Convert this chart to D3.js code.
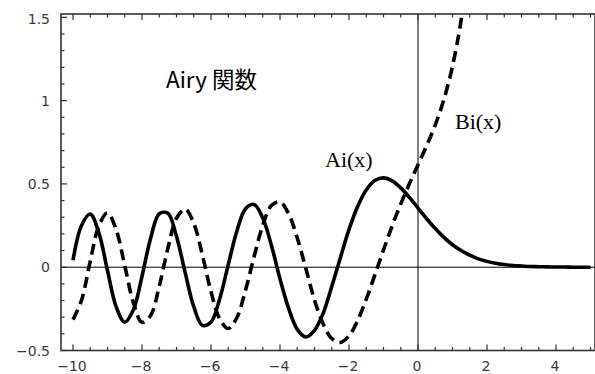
<!DOCTYPE html>
<html><head><meta charset="utf-8">
<script src="https://cdn.jsdelivr.net/npm/d3@7/dist/d3.min.js"></script>
<style>body{margin:0;background:#fff;overflow:hidden}</style>
</head><body>
<script>
// Sample positions
const aiX = [-10,-9.75,-9.5,-9.25,-9,-8.75,-8.5,-8.25,-8,-7.75,-7.5,-7.25,-7,-6.75,-6.5,-6.25,-6,-5.75,-5.5,-5.25,-5,-4.75,-4.5,-4.25,-4,-3.75,-3.5,-3.25,-3,-2.75,-2.5,-2.25,-2,-1.75,-1.5,-1.25,-1,-0.75,-0.5,-0.25,0,0.25,0.5,0.75,1,1.25,1.5,1.75,2,2.25,2.5,2.75,3,3.25,3.5,3.75,4,4.25,4.5,4.75,5];
const aiY = [0.042,0.252,0.319,0.206,-0.021,-0.237,-0.330,-0.256,-0.054,0.174,0.321,0.324,0.184,-0.031,-0.237,-0.349,-0.329,-0.191,0.015,0.217,0.351,0.377,0.295,0.132,-0.070,-0.247,-0.373,-0.419,-0.379,-0.277,-0.116,0.057,0.227,0.365,0.464,0.520,0.536,0.518,0.476,0.419,0.355,0.291,0.232,0.179,0.135,0.100,0.072,0.050,0.035,0.024,0.016,0.010,0.007,0.004,0.003,0.002,0.001,0.001,0.000,0.000,0.000];
const biX = [-10,-9.75,-9.5,-9.25,-9,-8.75,-8.5,-8.25,-8,-7.75,-7.5,-7.25,-7,-6.75,-6.5,-6.25,-6,-5.75,-5.5,-5.25,-5,-4.75,-4.5,-4.25,-4,-3.75,-3.5,-3.25,-3,-2.75,-2.5,-2.25,-2,-1.75,-1.5,-1.25,-1,-0.75,-0.5,-0.25,0,0.25,0.5,0.75,1,1.25,1.5];
const biY = [-0.315,-0.196,0.037,0.249,0.325,0.226,0.009,-0.213,-0.331,-0.290,-0.114,0.114,0.294,0.349,0.263,0.073,-0.147,-0.310,-0.368,-0.303,-0.138,0.064,0.251,0.370,0.392,0.321,0.175,-0.009,-0.198,-0.340,-0.428,-0.452,-0.412,-0.320,-0.192,-0.046,0.104,0.248,0.380,0.501,0.615,0.729,0.854,1.007,1.207,1.484,1.879];

const xTicks = [-10,-8,-6,-4,-2,0,2,4];
const xTickLabels = ["\u221210","\u22128","\u22126","\u22124","\u22122","0","2","4"];
const yTicks = [-0.5,0,0.5,1,1.5];
const yTickLabels = ["\u22120.5","0","0.5","1","1.5"];

const W = 595, H = 374;
const L = 61, R = 595, T = 14, B = 350.5;

const x = d3.scaleLinear().domain([-10.348, 5.13]).range([L, R]);
const y = d3.scaleLinear().domain([-0.5, 1.52]).range([B, T]);

const svg = d3.select("body").append("svg").attr("width", W).attr("height", H);

svg.append("clipPath").attr("id","clip").append("rect")
  .attr("x", L).attr("y", T).attr("width", R - L).attr("height", B - T);

// axes through origin
svg.append("line").attr("x1", L).attr("x2", R).attr("y1", y(0)).attr("y2", y(0))
  .attr("stroke", "#000").attr("stroke-width", 1);
svg.append("line").attr("x1", x(0)).attr("x2", x(0)).attr("y1", T).attr("y2", B)
  .attr("stroke", "#000").attr("stroke-width", 1);

const line = d3.line().x(d => x(d[0])).y(d => y(d[1])).curve(d3.curveCatmullRom.alpha(0.5));
const g = svg.append("g").attr("clip-path", "url(#clip)");
g.append("path").datum(aiX.map((v, i) => [v, aiY[i]]))
  .attr("d", line).attr("fill", "none").attr("stroke", "#000")
  .attr("stroke-width", 3.6).attr("stroke-linejoin", "round");
g.append("path").datum(biX.map((v, i) => [v, biY[i]]))
  .attr("d", line).attr("fill", "none").attr("stroke", "#000")
  .attr("stroke-width", 3.6).attr("stroke-dasharray", "11,6");

// frame
const fc = "#333";
svg.append("rect").attr("x", L).attr("y", T).attr("width", R - L).attr("height", B - T)
  .attr("fill", "none").attr("stroke", fc).attr("stroke-width", 1.6);

// ticks
const xMinor = d3.range(-10, 5.01, 0.5);
const yMinor = d3.range(-5, 15.1, 1).map(v => v / 10);
const isMajX = v => xTicks.some(t => Math.abs(t - v) < 1e-6);
const isMajY = v => yTicks.some(t => Math.abs(t - v) < 1e-6);
xMinor.forEach(v => {
  const len = isMajX(v) ? 6 : 3.5;
  svg.append("line").attr("x1", x(v)).attr("x2", x(v)).attr("y1", B).attr("y2", B - len)
    .attr("stroke", fc).attr("stroke-width", 1.2);
  svg.append("line").attr("x1", x(v)).attr("x2", x(v)).attr("y1", T).attr("y2", T + len)
    .attr("stroke", fc).attr("stroke-width", 1.2);
});
yMinor.forEach(v => {
  const len = isMajY(v) ? 6 : 3.5;
  svg.append("line").attr("x1", L).attr("x2", L + len).attr("y1", y(v)).attr("y2", y(v))
    .attr("stroke", fc).attr("stroke-width", 1.2);
});

// tick labels
const tf = "DejaVu Sans, Verdana, sans-serif";
svg.selectAll(".xl").data(xTicks).enter().append("text")
  .attr("x", d => x(d) - 1).attr("y", 371).attr("text-anchor", "middle")
  .attr("font-family", tf).attr("font-size", 14).attr("fill", "#3a3a3a")
  .text((d, i) => xTickLabels[i]);
svg.selectAll(".yl").data(yTicks).enter().append("text")
  .attr("x", 50).attr("y", d => Math.max(y(d), 19)).attr("dy", "0.36em").attr("text-anchor", "end")
  .attr("font-family", tf).attr("font-size", 14).attr("fill", "#3a3a3a")
  .text((d, i) => yTickLabels[i]);

// annotations
svg.append("text").attr("x", 166).attr("y", 88)
  .attr("font-family", "'Noto Sans CJK JP', 'Noto Sans', sans-serif").attr("font-size", 22.5)
  .attr("fill", "#000").text("Airy 関数");
svg.append("text").attr("x", 325).attr("y", 167)
  .attr("font-family", "'Liberation Serif', 'Times New Roman', serif").attr("font-size", 22)
  .attr("fill", "#000").text("Ai(x)");
svg.append("text").attr("x", 455).attr("y", 129)
  .attr("font-family", "'Liberation Serif', 'Times New Roman', serif").attr("font-size", 22)
  .attr("fill", "#000").text("Bi(x)");
</script>
</body></html>
